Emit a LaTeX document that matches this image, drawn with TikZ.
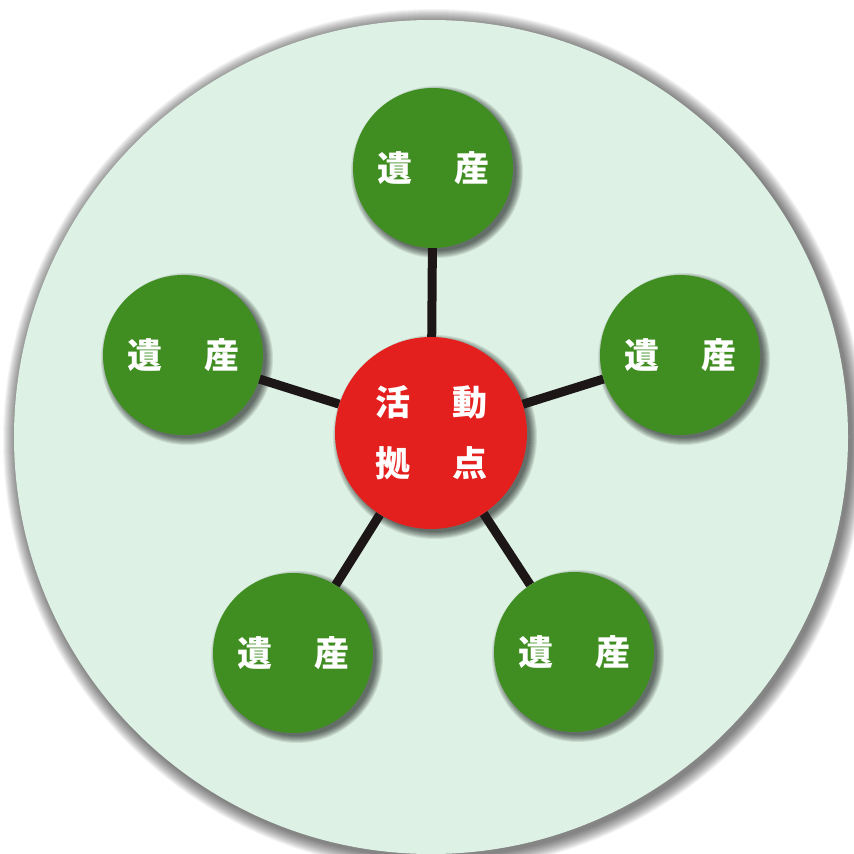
\documentclass[tikz,border=0pt]{standalone}
\usepackage{fontspec}
\newfontfamily\cjk{Noto Sans CJK JP}
\usetikzlibrary{calc}
\definecolor{bgmint}{RGB}{221,241,228}
\definecolor{leaf}{RGB}{64,142,34}
\definecolor{hub}{RGB}{228,32,30}
\definecolor{linkc}{RGB}{28,22,22}
\pgfdeclarelayer{bg}
\pgfdeclarelayer{edges}
\pgfsetlayers{bg,edges,main}
\tikzset{
  heritage/.style={circle, fill=leaf, minimum size=160pt, inner sep=0pt, text=white,
    font=\cjk\bfseries\fontsize{35pt}{40pt}\selectfont},
  base/.style={circle, fill=hub, minimum size=192pt, inner sep=0pt, text=white, align=center,
    font=\cjk\bfseries\fontsize{35pt}{61pt}\selectfont},
  link/.style={draw=linkc, line width=9pt}
}
\newcommand{\isan}{遺\hspace{42pt}産}
\begin{document}
\begin{tikzpicture}[x=1pt,y=-1pt]
\useasboundingbox (0,0) rectangle (854,854);
\node[base] (c) at (431,433) {活\hspace{42pt}動\\拠\hspace{42pt}点};
\node[heritage] (g1) at (433,168) {\isan};
\node[heritage] (g2) at (183,355) {\isan};
\node[heritage] (g3) at (680,355) {\isan};
\node[heritage] (g4) at (293,653) {\isan};
\node[heritage] (g5) at (574,652) {\isan};
\begin{pgfonlayer}{edges}
  \foreach \n in {g1,g2,g3,g4,g5} \draw[link] (c) -- (\n);
\end{pgfonlayer}
\begin{pgfonlayer}{bg}
  \fill[white] (0,0) rectangle (854,854);
  \foreach \i in {1,...,14}
    \fill[black, opacity=0.045] (434,440) circle ({417+15-\i});
  \fill[bgmint] (431,437) circle (417);
  \foreach \n/\r in {c/96,g1/80,g2/80,g3/80,g4/80,g5/80}
    \foreach \i in {1,...,8}
      \fill[black, opacity=0.09] ($(\n.center)+(4,4)$) circle ({\r+7-\i});
\end{pgfonlayer}
\end{tikzpicture}
\end{document}
